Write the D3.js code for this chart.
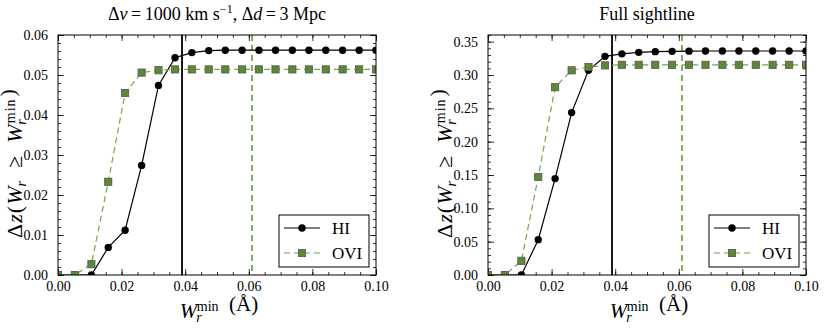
<!DOCTYPE html>
<html>
<head>
<meta charset="utf-8">
<script src="https://cdn.jsdelivr.net/npm/d3@7"></script>
<style>
body { margin: 0; background: #fff; }
text { font-family: "Liberation Serif", "Times New Roman", serif; fill: #000; }
</style>
</head>
<body>
<div id="chart"></div>
<script>
// W_r^min grid (Angstrom)
var wmin = [0, 0.0053, 0.0105, 0.0158, 0.0211, 0.0263, 0.0316, 0.0368, 0.0421, 0.0474,
            0.0526, 0.0579, 0.0632, 0.0684, 0.0737, 0.0789, 0.0842, 0.0895, 0.0947, 0.1];

// left panel: dv = 1000 km/s, dd = 3 Mpc
var hiWindow  = [0, 0, 0, 0.0069, 0.0112, 0.0274, 0.0474, 0.0543, 0.0556, 0.0561,
                 0.0562, 0.0562, 0.0562, 0.0562, 0.0562, 0.0562, 0.0562, 0.0562, 0.0562, 0.0562];
var oviWindow = [0, 0, 0.0027, 0.0233, 0.0455, 0.0506, 0.0512, 0.0514, 0.0514, 0.0514,
                 0.0514, 0.0514, 0.0514, 0.0514, 0.0514, 0.0514, 0.0514, 0.0514, 0.0514, 0.0514];

// right panel: full sightline
var hiFull  = [0, 0, 0, 0.053, 0.1446, 0.2436, 0.307, 0.328, 0.3317, 0.334,
               0.335, 0.3355, 0.3358, 0.336, 0.336, 0.336, 0.336, 0.336, 0.336, 0.336];
var oviFull = [0, 0, 0.0213, 0.147, 0.2817, 0.307, 0.312, 0.3144, 0.3153, 0.3153,
               0.3153, 0.3153, 0.3153, 0.3153, 0.3153, 0.3153, 0.3153, 0.3153, 0.3153, 0.3153];

var xTicks = [0, 0.02, 0.04, 0.06, 0.08, 0.10];
var yTicksLeft = [0, 0.01, 0.02, 0.03, 0.04, 0.05, 0.06];
var yTicksRight = [0, 0.05, 0.10, 0.15, 0.20, 0.25, 0.30, 0.35];

// detection limits
var hiLimit = 0.039, oviLimit = 0.061;

var greenFill = "#5b8a37", greenLine = "#74a64c";

var svg = d3.select("#chart").append("svg").attr("width", 830).attr("height", 332);

var panels = [
  {x0: 58, hi: hiWindow, ovi: oviWindow, ymax: 0.06, yTicks: yTicksLeft, yMinor: 0.002, title: "window"},
  {x0: 488, hi: hiFull, ovi: oviFull, ymax: 0.36, yTicks: yTicksRight, yMinor: 0.01, title: "Full sightline"}
];

var yTop = 35, yBottom = 275, pw = 318;

function subSup(sel, base) {
  // W with subscript r and superscript min stacked
  sel.append("tspan").attr("font-style", "italic").text(base);
  sel.append("tspan").attr("font-style", "italic").attr("dy", 4).attr("dx", -1).style("font-size", "14px").text("r");
  sel.append("tspan").attr("dy", -11).attr("dx", -5).style("font-size", "14px").text("min");
  sel.append("tspan").attr("dy", 7).text("");
}

panels.forEach(function(p) {
  var g = svg.append("g");
  var x = d3.scaleLinear().domain([0, 0.1]).range([p.x0, p.x0 + pw]);
  var y = d3.scaleLinear().domain([0, p.ymax]).range([yBottom, yTop]);

  var clipId = "clip" + p.x0;
  svg.append("clipPath").attr("id", clipId).append("rect")
    .attr("x", p.x0).attr("y", yTop).attr("width", pw).attr("height", yBottom - yTop);

  // ticks on all sides, inward
  var xMinor = d3.range(0, 0.1001, 0.005);
  var yMinor = d3.range(0, p.ymax + 1e-9, p.yMinor);
  g.append("g").attr("transform", "translate(0," + yBottom + ")")
    .call(d3.axisBottom(x).tickValues(xMinor).tickSize(-3).tickFormat(""));
  g.append("g").attr("transform", "translate(0," + yTop + ")")
    .call(d3.axisTop(x).tickValues(xMinor).tickSize(-3).tickFormat(""));
  g.append("g").attr("class", "lab").attr("transform", "translate(0," + yBottom + ")")
    .call(d3.axisBottom(x).tickValues(xTicks).tickSize(-6).tickPadding(6).tickFormat(d3.format(".2f")));
  g.append("g").attr("transform", "translate(0," + yTop + ")")
    .call(d3.axisTop(x).tickValues(xTicks).tickSize(-6).tickFormat(""));
  g.append("g").attr("transform", "translate(" + p.x0 + ",0)")
    .call(d3.axisLeft(y).tickValues(yMinor).tickSize(-3).tickFormat(""));
  g.append("g").attr("transform", "translate(" + (p.x0 + pw) + ",0)")
    .call(d3.axisRight(y).tickValues(yMinor).tickSize(-3).tickFormat(""));
  g.append("g").attr("class", "lab").attr("transform", "translate(" + p.x0 + ",0)")
    .call(d3.axisLeft(y).tickValues(p.yTicks).tickSize(-6).tickPadding(10).tickFormat(d3.format(".2f")));
  g.append("g").attr("transform", "translate(" + (p.x0 + pw) + ",0)")
    .call(d3.axisRight(y).tickValues(p.yTicks).tickSize(-6).tickFormat(""));
  g.selectAll(".domain").remove();
  g.selectAll(".tick line").attr("stroke", "#000").attr("stroke-width", 0.8);
  g.selectAll(".lab").attr("font-family", null).attr("font-size", null);
  g.selectAll(".tick text").style("font-size", "14px").attr("fill", "#000");

  var plot = g.append("g").attr("clip-path", "url(#" + clipId + ")");

  // limit lines
  plot.append("line").attr("x1", x(hiLimit)).attr("x2", x(hiLimit)).attr("y1", yTop).attr("y2", yBottom)
    .attr("stroke", "#000").attr("stroke-width", 1.8);
  plot.append("line").attr("x1", x(oviLimit)).attr("x2", x(oviLimit)).attr("y1", yTop).attr("y2", yBottom)
    .attr("stroke", greenLine).attr("stroke-width", 1.8).attr("stroke-dasharray", "6,4");

  var line = d3.line().x(function(d, i) { return x(wmin[i]); }).y(function(d) { return y(d); });

  plot.append("path").datum(p.hi).attr("d", line).attr("fill", "none").attr("stroke", "#000").attr("stroke-width", 1.2);
  plot.selectAll(".hi").data(p.hi).enter().append("circle")
    .attr("cx", function(d, i) { return x(wmin[i]); }).attr("cy", function(d) { return y(d); })
    .attr("r", 3.7).attr("fill", "#000");

  plot.append("path").datum(p.ovi).attr("d", line).attr("fill", "none").attr("stroke", greenLine)
    .attr("stroke-width", 1.2).attr("stroke-dasharray", "6,4");
  plot.selectAll(".ovi").data(p.ovi).enter().append("rect")
    .attr("x", function(d, i) { return x(wmin[i]) - 3.6; }).attr("y", function(d) { return y(d) - 3.6; })
    .attr("width", 7.2).attr("height", 7.2).attr("fill", greenFill).attr("stroke", "#555").attr("stroke-width", 0.8);

  // frame
  g.append("rect").attr("x", p.x0).attr("y", yTop).attr("width", pw).attr("height", yBottom - yTop)
    .attr("fill", "none").attr("stroke", "#000").attr("stroke-width", 1);

  // title
  var cx = p.x0 + pw / 2;
  var t = g.append("text").attr("x", cx).attr("y", 20).attr("text-anchor", "middle").style("font-size", "18px");
  if (p.title === "window") {
    t.append("tspan").text("Δ");
    t.append("tspan").attr("font-style", "italic").text("v");
    t.append("tspan").text("\u2009=\u20091000 km s");
    t.append("tspan").attr("dy", -7).style("font-size", "12px").text("−1");
    t.append("tspan").attr("dy", 7).text(", Δ");
    t.append("tspan").attr("font-style", "italic").text("d");
    t.append("tspan").text("\u2009=\u20093 Mpc");
  } else {
    t.text(p.title);
  }

  // x label
  var xl = g.append("text").attr("x", cx + 2).attr("y", 318).attr("text-anchor", "middle").style("font-size", "21px");
  subSup(xl, "W");
  xl.append("tspan").text("\u00a0\u00a0(Å)");

  // y label
  var yl = g.append("text").attr("transform", "translate(" + (p.x0 - 36) + ",163) rotate(-90)")
    .attr("text-anchor", "middle").style("font-size", "22px").style("letter-spacing", "1px");
  yl.append("tspan").text("Δ");
  yl.append("tspan").attr("font-style", "italic").text("z");
  yl.append("tspan").text("(");
  yl.append("tspan").attr("font-style", "italic").text("W");
  yl.append("tspan").attr("font-style", "italic").attr("dy", 4).attr("dx", -1).style("font-size", "14px").text("r");
  yl.append("tspan").attr("dy", -4).text("\u2002≥\u2002");
  subSup(yl, "W");
  yl.append("tspan").attr("dx", 2).text(")");

  // legend
  var lx = p.x0 + pw - 97, ly = 215;
  var lg = g.append("g");
  lg.append("rect").attr("x", lx).attr("y", ly).attr("width", 90).attr("height", 52)
    .attr("fill", "#fff").attr("stroke", "#000").attr("stroke-width", 1);
  lg.append("line").attr("x1", lx + 5).attr("x2", lx + 41).attr("y1", ly + 13).attr("y2", ly + 13)
    .attr("stroke", "#000").attr("stroke-width", 1.2);
  lg.append("circle").attr("cx", lx + 23).attr("cy", ly + 13).attr("r", 3.7).attr("fill", "#000");
  lg.append("text").attr("x", lx + 53).attr("y", ly + 18.5).style("font-size", "17px").text("HI");
  lg.append("line").attr("x1", lx + 5).attr("x2", lx + 41).attr("y1", ly + 38).attr("y2", ly + 38)
    .attr("stroke", greenLine).attr("stroke-width", 1.2).attr("stroke-dasharray", "6,4");
  lg.append("rect").attr("x", lx + 23 - 3.6).attr("y", ly + 38 - 3.6).attr("width", 7.2).attr("height", 7.2)
    .attr("fill", greenFill).attr("stroke", "#555").attr("stroke-width", 0.8);
  lg.append("text").attr("x", lx + 53).attr("y", ly + 43.5).style("font-size", "17px").text("OVI");
});
</script>
</body>
</html>
